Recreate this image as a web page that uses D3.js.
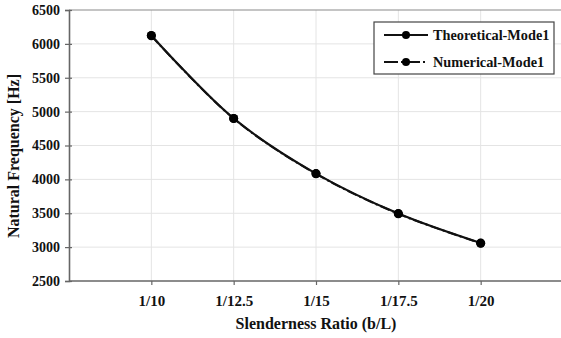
<!DOCTYPE html>
<html>
<head>
<meta charset="utf-8">
<script src="https://cdn.jsdelivr.net/npm/d3@7"></script>
<style>
  html, body { margin: 0; padding: 0; background: #fff; }
  svg { display: block; font-family: "Liberation Serif", "Times New Roman", serif; font-weight: bold; }
</style>
</head>
<body>
<svg id="chart" width="561" height="338"></svg>
<script>
// categories along the x axis
const ratios = ["1/10", "1/12.5", "1/15", "1/17.5", "1/20"];
// natural frequency [Hz]
const theoretical = [6125, 4900, 4085, 3495, 3060];
const numerical = [6120, 4898, 4082, 3492, 3058];
const yTicks = [2500, 3000, 3500, 4000, 4500, 5000, 5500, 6000, 6500];
const seriesNames = ["Theoretical-Mode1", "Numerical-Mode1"];

const svg = d3.select("#chart");
const plotLeft = 69, plotRight = 563, plotTop = 10, plotBottom = 281;

const x = d3.scaleLinear().domain([0, ratios.length + 1]).range([plotLeft, plotRight]);
const y = d3.scaleLinear().domain([2500, 6500]).range([plotBottom, plotTop]);

// grid
svg.append("g")
  .selectAll("line")
  .data(yTicks.slice(1, -1))
  .enter().append("line")
  .attr("x1", plotLeft).attr("x2", 561)
  .attr("y1", d => y(d)).attr("y2", d => y(d))
  .attr("stroke", "#e4e4e4").attr("stroke-width", 1);

svg.append("g")
  .selectAll("line")
  .data(ratios)
  .enter().append("line")
  .attr("x1", (d, i) => x(i + 1)).attr("x2", (d, i) => x(i + 1))
  .attr("y1", plotTop).attr("y2", plotBottom)
  .attr("stroke", "#e4e4e4").attr("stroke-width", 1);

// top frame line
svg.append("line")
  .attr("x1", plotLeft).attr("x2", 561)
  .attr("y1", plotTop).attr("y2", plotTop)
  .attr("stroke", "#8a8a8a").attr("stroke-width", 1.2);

// y axis
const yAxis = svg.append("g")
  .attr("transform", `translate(${plotLeft},0)`)
  .call(d3.axisLeft(y).tickValues(yTicks).tickFormat(d3.format("d")).tickSize(4).tickPadding(5));
yAxis.select(".domain").attr("stroke", "#666").attr("stroke-width", 1.6);
yAxis.selectAll(".tick line").attr("stroke", "#666").attr("stroke-width", 1.2).attr("x2", 3).attr("x1", -4);
yAxis.selectAll("text").attr("font-size", 14).attr("font-weight", "bold")
  .attr("fill", "#111").attr("font-family", "Liberation Serif");

// x axis
const xAxis = svg.append("g")
  .attr("transform", `translate(0,${plotBottom})`)
  .call(d3.axisBottom(x)
    .tickValues(d3.range(1, ratios.length + 1))
    .tickFormat(d => ratios[d - 1])
    .tickSize(4).tickPadding(10).tickSizeOuter(0));
xAxis.select(".domain").attr("stroke", "#666").attr("stroke-width", 1.6)
  .attr("d", `M${plotLeft},0H561`);
xAxis.selectAll(".tick line").attr("stroke", "#666").attr("stroke-width", 1.2);
xAxis.selectAll("text").attr("font-size", 15).attr("font-weight", "bold")
  .attr("fill", "#111").attr("font-family", "Liberation Serif");

// axis titles
svg.append("text")
  .attr("x", 316).attr("y", 329)
  .attr("text-anchor", "middle")
  .attr("font-size", 16).attr("fill", "#111")
  .text("Slenderness Ratio (b/L)");

svg.append("text")
  .attr("transform", "translate(19,156) rotate(-90)")
  .attr("text-anchor", "middle")
  .attr("font-size", 16).attr("fill", "#111")
  .text("Natural Frequency [Hz]");

// lines
const line = d3.line()
  .x((d, i) => x(i + 1))
  .y(d => y(d))
  .curve(d3.curveCatmullRom.alpha(0.5));

svg.append("path").datum(theoretical)
  .attr("d", line).attr("fill", "none")
  .attr("stroke", "#111").attr("stroke-width", 2.2);
svg.append("path").datum(numerical)
  .attr("d", line).attr("fill", "none")
  .attr("stroke", "#111").attr("stroke-width", 2)
  .attr("stroke-dasharray", "10,3,2,3");

[theoretical, numerical].forEach(s => {
  svg.append("g").selectAll("circle")
    .data(s).enter().append("circle")
    .attr("cx", (d, i) => x(i + 1))
    .attr("cy", d => y(d))
    .attr("r", 4.5)
    .attr("fill", "#000");
});

// legend
const lg = svg.append("g");
lg.append("rect")
  .attr("x", 374).attr("y", 22).attr("width", 180).attr("height", 52)
  .attr("fill", "#fff").attr("stroke", "#444").attr("stroke-width", 1.2);
seriesNames.forEach((name, i) => {
  const yy = 35 + i * 27;
  lg.append("line")
    .attr("x1", 384).attr("x2", 428).attr("y1", yy).attr("y2", yy)
    .attr("stroke", "#111").attr("stroke-width", 2)
    .attr("stroke-dasharray", i === 0 ? null : "14,3,2,3");
  lg.append("circle").attr("cx", 406).attr("cy", yy).attr("r", 4).attr("fill", "#000");
  lg.append("text")
    .attr("x", 433).attr("y", yy + 5)
    .attr("font-size", 14.3).attr("fill", "#111")
    .text(name);
});
</script>
</body>
</html>
